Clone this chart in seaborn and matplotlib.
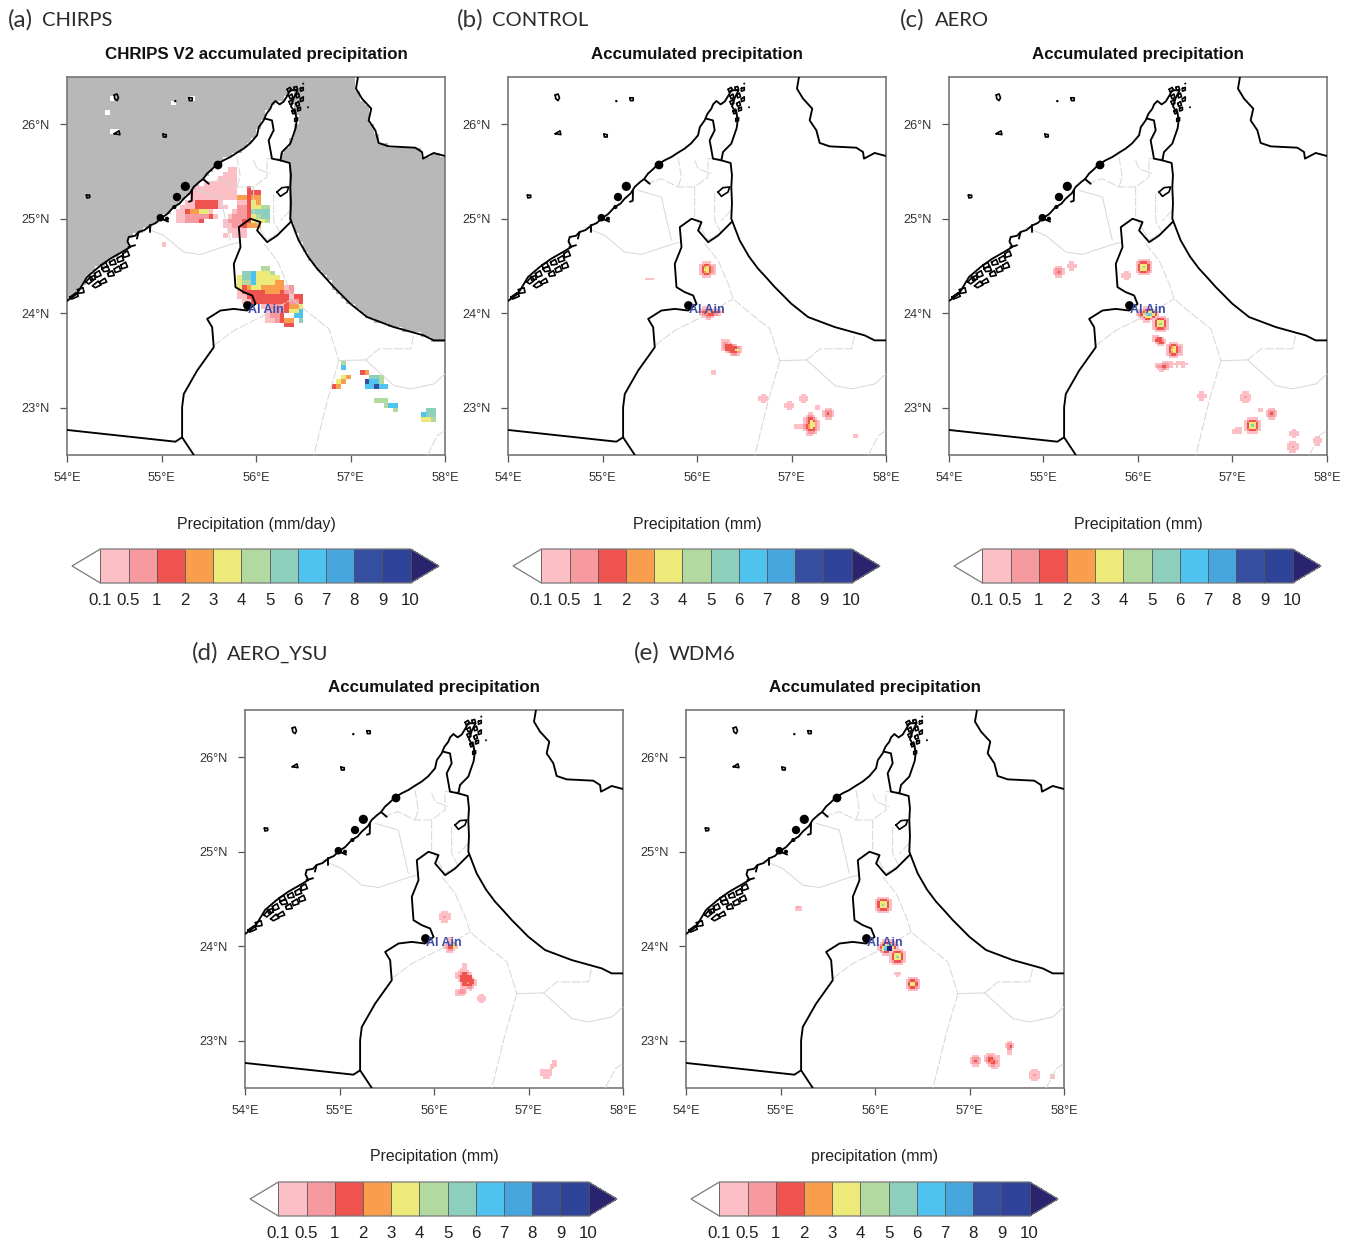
import numpy as np
import seaborn as sns
import matplotlib.pyplot as plt
from matplotlib.colors import ListedColormap, BoundaryNorm
from matplotlib.cm import ScalarMappable
from matplotlib.path import Path

W, H = 1352, 1242
sns.set_theme(style='white')
plt.rcParams['font.family'] = ['Liberation Sans', 'DejaVu Sans']

# contour classes of the colour bar, 1 = 0.1-0.5 ... b = 9-10, c = above 10
LEVELS = [0.1, 0.5, 1, 2, 3, 4, 5, 6, 7, 8, 9, 10]
LEVEL_LABELS = ['0.1', '0.5', '1', '2', '3', '4', '5', '6', '7', '8', '9', '10']
COLORS = ['#fbbfc5', '#f79aa0', '#ef5350', '#f89e4c', '#eeea79', '#b2d9a0',
          '#8dcfbd', '#4fc3f0', '#45a5dc', '#354ea0', '#2f4499']
OVER = '#29246d'

LON_TICKS = [54, 55, 56, 57, 58]
LAT_TICKS = [23, 24, 25, 26]

# gulf coast, Musandam tip, then down the east coast
COAST = [(54.0, 24.13), (54.106, 24.207), (54.159, 24.295), (54.212, 24.384), (54.335, 24.489),
         (54.459, 24.578), (54.582, 24.648), (54.67, 24.701), (54.64, 24.76), (54.653, 24.807), (54.72, 24.82),
         (54.758, 24.86), (54.82, 24.88), (54.882, 24.93), (54.94, 24.955), (54.988, 25.001), (55.06, 25.05),
         (55.129, 25.124), (55.19, 25.16), (55.235, 25.213), (55.30, 25.27), (55.34, 25.336), (55.40, 25.39),
         (55.44, 25.42), (55.481, 25.477), (55.53, 25.52), (55.587, 25.576), (55.66, 25.62), (55.728, 25.653),
         (55.80, 25.70), (55.869, 25.742), (55.94, 25.80), (56.011, 25.883), (56.03, 25.97), (56.081, 26.041),
         (56.11, 26.11), (56.152, 26.165), (56.17, 26.21), (56.205, 26.246), (56.25, 26.21), (56.293, 26.24),
         (56.33, 26.30), (56.363, 26.359), (56.44, 26.36), (56.40, 26.28), (56.37, 26.19), (56.42, 26.11),
         (56.43, 26.041), (56.42, 25.96), (56.363, 25.795), (56.275, 25.706), (56.258, 25.618), (56.356, 25.59),
         (56.37, 25.46), (56.363, 25.336), (56.37, 25.17), (56.363, 25.001), (56.451, 24.772), (56.55, 24.60),
         (56.646, 24.472), (56.74, 24.37), (56.822, 24.278), (56.91, 24.19), (56.998, 24.101), (57.175, 23.96),
         (57.457, 23.854), (57.774, 23.766), (57.88, 23.713), (58.0, 23.713)]
IRAN = [(57.079, 26.5), (57.058, 26.377), (57.122, 26.271), (57.22, 26.165), (57.192, 26.041),
        (57.263, 25.936), (57.298, 25.802), (57.404, 25.766), (57.686, 25.752), (57.757, 25.706),
        (57.767, 25.636), (57.88, 25.696), (58.0, 25.664)]
OMAN_BORDER = [(55.342, 22.5), (55.218, 22.687), (55.218, 23.005), (55.236, 23.146), (55.377, 23.393),
               (55.553, 23.64), (55.536, 23.852), (55.483, 23.94), (55.624, 24.029), (55.765, 24.046),
               (55.906, 24.029), (55.995, 24.099), (55.959, 24.188), (55.871, 24.223), (55.783, 24.276),
               (55.765, 24.523), (55.836, 24.699), (55.818, 24.911), (55.942, 25.0), (56.048, 24.964),
               (56.012, 24.876), (56.118, 24.752), (56.224, 24.823), (56.365, 24.964)]
SAUDI_BORDER = [(54.0, 22.765), (55.147, 22.641), (55.218, 22.687)]
MUSANDAM_BORDER = [(56.099, 26.059), (56.169, 26.041), (56.187, 25.936), (56.134, 25.83),
                   (56.169, 25.636), (56.258, 25.618)]
# small closed outlines: lagoons, Musandam inlets, offshore islands, the lake
LOOPS = [[(54.03, 24.17), (54.10, 24.22), (54.12, 24.18), (54.05, 24.15)],
         [(54.11, 24.25), (54.17, 24.27), (54.18, 24.22), (54.12, 24.21)],
         [(54.20, 24.33), (54.25, 24.39), (54.28, 24.35), (54.23, 24.31)],
         [(54.27, 24.29), (54.33, 24.34), (54.36, 24.30), (54.30, 24.27)],
         [(54.34, 24.33), (54.40, 24.37), (54.42, 24.33), (54.36, 24.31)],
         [(54.29, 24.42), (54.34, 24.45), (54.36, 24.40), (54.31, 24.38)],
         [(54.37, 24.47), (54.43, 24.50), (54.45, 24.45), (54.39, 24.44)],
         [(54.43, 24.42), (54.48, 24.45), (54.50, 24.40), (54.44, 24.39)],
         [(54.50, 24.47), (54.55, 24.50), (54.57, 24.45), (54.51, 24.43)],
         [(54.45, 24.54), (54.50, 24.57), (54.52, 24.52), (54.46, 24.51)],
         [(54.53, 24.58), (54.58, 24.61), (54.60, 24.56), (54.54, 24.54)],
         [(54.59, 24.63), (54.64, 24.66), (54.66, 24.61), (54.60, 24.59)],
         [(54.57, 24.51), (54.62, 24.54), (54.64, 24.49), (54.58, 24.47)],
         [(54.36, 24.51), (54.41, 24.54), (54.43, 24.49), (54.37, 24.48)],
         [(54.24, 24.38), (54.29, 24.40), (54.30, 24.36), (54.25, 24.35)],
         [(56.33, 26.37), (56.36, 26.39), (56.38, 26.36), (56.34, 26.34)],
         [(56.40, 26.39), (56.43, 26.40), (56.44, 26.37), (56.41, 26.36)],
         [(56.47, 26.38), (56.50, 26.39), (56.50, 26.36), (56.47, 26.35)],
         [(56.35, 26.30), (56.38, 26.32), (56.39, 26.28), (56.36, 26.27)],
         [(56.42, 26.31), (56.45, 26.33), (56.46, 26.29), (56.43, 26.28)],
         [(56.47, 26.27), (56.50, 26.29), (56.50, 26.25), (56.47, 26.24)],
         [(56.35, 26.24), (56.38, 26.26), (56.39, 26.22), (56.36, 26.21)],
         [(56.42, 26.22), (56.45, 26.24), (56.46, 26.20), (56.43, 26.19)],
         [(56.38, 26.14), (56.41, 26.16), (56.42, 26.12), (56.39, 26.11)],
         [(56.44, 26.17), (56.47, 26.18), (56.47, 26.15), (56.44, 26.14)],
         [(56.41, 26.06), (56.44, 26.07), (56.44, 26.04), (56.41, 26.03)],
         [(56.222, 25.283), (56.275, 25.329), (56.346, 25.336), (56.328, 25.283), (56.258, 25.237)],
         [(54.50, 26.31), (54.53, 26.32), (54.545, 26.28), (54.53, 26.25), (54.505, 26.27)],
         [(54.5, 25.9), (54.55, 25.93), (54.56, 25.89)],
         [(55.29, 26.28), (55.325, 26.28), (55.325, 26.25), (55.295, 26.25)],
         [(55.015, 25.895), (55.05, 25.89), (55.05, 25.865), (55.02, 25.865)],
         [(54.205, 25.25), (54.24, 25.25), (54.24, 25.225), (54.21, 25.22)]]
SPURS = [[(54.758, 24.86), (54.74, 24.79)], [(54.882, 24.93), (54.882, 24.86)],
         [(55.323, 25.3), (55.32, 25.19), (55.29, 25.18)], [(55.0, 25.0), (55.07, 24.97)],
         [(54.65, 24.70), (54.72, 24.72)], [(55.44, 25.42), (55.50, 25.37)]]
FILLED_LON = [55.252, 55.164, 55.136, 54.988, 55.058, 55.598, 55.146, 56.55, 56.50]
FILLED_LAT = [25.343, 25.23, 25.124, 25.011, 25.0, 25.569, 26.245, 26.18, 26.43]
FILLED_SIZE = [44, 36, 9, 30, 9, 40, 3, 2, 2]
AL_AIN = (55.906, 24.092)

SOLID_GREY = [[(54.812, 24.911), (55.024, 24.823), (55.236, 24.647), (55.412, 24.622), (55.695, 24.717), (55.818, 24.752)],
              [(56.877, 23.499), (57.16, 23.506)],
              [(57.16, 23.506), (57.46, 23.234), (57.636, 23.199), (57.883, 23.252), (58.0, 23.358)],
              [(55.376, 25.301), (55.623, 25.23), (55.728, 24.772)]]
DASHED_GREY = [[(56.083, 24.735), (56.224, 24.558), (56.33, 24.311), (56.383, 24.152), (56.507, 24.046), (56.771, 23.835), (56.877, 23.499)],
               [(55.553, 23.658), (55.765, 23.817), (56.083, 23.976), (56.383, 24.152)],
               [(56.877, 23.499), (56.754, 23.075), (56.613, 22.5)],
               [(57.16, 23.506), (57.301, 23.623), (57.636, 23.623), (57.672, 23.782)],
               [(57.813, 22.5), (57.919, 22.705), (58.0, 22.758)],
               [(55.799, 25.653), (55.834, 25.442), (55.799, 25.336)],
               [(55.464, 25.371), (55.623, 25.424), (55.799, 25.336), (55.975, 25.336), (56.116, 25.442), (56.116, 25.636), (56.258, 25.636)],
               [(55.975, 25.618), (56.011, 25.53), (56.152, 25.477)],
               [(55.975, 25.336), (55.975, 25.019), (56.116, 24.772), (56.222, 24.842)],
               [(56.187, 25.265), (56.187, 24.983), (56.258, 24.842)],
               [(56.363, 25.089), (56.258, 24.98)]]

# land cells that stay white inside the grey sea of the CHIRPS panel
SEA_HOLES = [(54.494, 26.29), (54.47, 26.29), (54.494, 26.26), (54.424, 26.11), (54.49, 25.91),
             (54.53, 25.91), (55.123, 26.23), (55.31, 26.27)]

# CHIRPS cells on the 0.05 degree grid: (row from south, column from west, classes)
CHIRPS_RUNS = [(60, 34, '11'), (59, 33, '111'), (58, 32, '1111'), (57, 29, '1111111'), (56, 27, '111111111'),
               (55, 26, '1111111111'), (54, 26, '1111111111'), (53, 25, '11333331'), (52, 24, '1113333311'),
               (51, 23, '11344551'), (50, 23, '112222231'), (49, 23, '112223'), (44, 20, '1'),
               (56, 38, '3'), (55, 38, '333'), (54, 36, '44344'), (53, 36, '11354'), (52, 36, '22355' + '66'),
               (51, 35, '1223' + '7777'), (50, 34, '1222' + '3' + '5677'), (49, 33, '1222' + '33' + '5556'),
               (48, 33, '1122' + '3444'), (47, 34, '1111'), (46, 33, '1.111'),
               (39, 41, '66'), (38, 37, '7785556'), (37, 36, '577855555'), (36, 36, '5668555544'),
               (35, 36, '534554444412'), (34, 36, '133333444322'), (33, 36, '11333333333133'),
               (32, 37, '1133333333223'), (31, 41, '112223445'), (30, 42, '12223558'), (29, 42, '1223..88'),
               (28, 42, '112344.7'), (27, 46, '33'),
               (19, 58, '6'), (18, 58, '8'), (16, 58, '54'), (15, 57, '54'), (14, 56, '34'),
               (17, 62, '34'), (16, 64, '776'), (15, 63, 'a886'), (14, 63, '88a88'),
               (11, 65, '666'), (10, 67, '688'), (9, 69, '6'),
               (9, 76, '77'), (8, 75, '877'), (7, 75, '556')]

# model cells on the 0.025 degree grid, top row first
TINY = ['11', '11']
PATCH = ['.11.', '1111', '1111', '.11.']
PATCH_ROSE = ['.111.', '11111', '11211', '11111', '.111.']
SOFT = ['.111.', '12221', '12321', '12221', '.111.']
HOT = ['.1111..', '1233211', '1345321', '1355321', '1345321', '1233211', '.1111..']
RING = ['.11111.', '1233321', '1355531', '1357531', '1355531', '1233321', '.11111.']
SMALL_RING = ['.1111.', '123321', '135531', '135531', '123321', '.1111.']

B_AIN = ['..1111.....', '.122222211.', '12334433321', '.123333221.', '..11221....', '....11.....']
B_BAR = ['1111.....', '12211....', '1233321..', '123333321', '113333551', '..1233321', '....1221.']
B_SE = ['...11....', '..1221...', '.123321..', '.1235321.', '.1235521.', '12345521.', '12345321.', '.1233321.', '..12221..', '..111....']
C_AIN = ['...1111....', '.11233211..', '1123555321.', '1235787531.', '.1235553211', '..1133211..', '...111.....']
C_BAR = ['111...', '12331.', '133321', '.12331', '..111.']
C_WIDE = ['...11111.1111', '11122211111111', '12233211.1.11', '.11221.......', '..11.........']
C_SW = ['.111', '1111', '1111']
D_BIG = ['...11....', '...11....', '..111....', '.11111...', '1123321..', '1233333..', '11333331.', '.13333331',
         '..1334331', '..1333321', '..111221.', '11221.1..', '12221....', '1111.....']
D_SE = ['.....11', '.....11', '....111', '....11.', '11111..', '11111..', '11111..', '.111...']
D_AIN = ['..11..', '..11..', '.1222.', '123351', '123351', '.1221.', '.111..']
E_AIN = ['..11111..', '.1233321.', '123577321', '1358cc531', '1358cc321', '.123331..', '..1111...']
E_SOFT = ['.1111..', '1122111', '1233211', '1234321', '.123321', '..12211', '...111.']
E_TALL = ['.11.', '1221', '1231', '.22.', '.11.', '.11.']

CONTROL_BLOBS = [(56.106, 24.458, HOT), (55.5, 24.35, ['1111']), (56.145, 23.99, B_AIN), (56.35, 23.64, B_BAR),
                 (56.17, 23.37, TINY), (56.69, 23.1, PATCH), (57.135, 23.1, PATCH), (56.98, 23.02, PATCH),
                 (57.285, 23.0, TINY), (57.4, 22.94, SOFT), (57.06, 22.79, ['111', '111']), (57.21, 22.83, B_SE),
                 (57.665, 22.71, TINY)]
AERO_BLOBS = [(56.074, 24.475, RING), (55.873, 24.394, PATCH), (56.12, 23.98, C_AIN), (56.226, 23.876, RING),
              (56.23, 23.71, C_BAR), (56.384, 23.618, HOT), (56.36, 23.43, C_WIDE), (56.673, 23.124, PATCH),
              (57.132, 23.117, PATCH_ROSE), (57.29, 22.983, TINY), (57.404, 22.934, SOFT), (57.213, 22.807, RING),
              (57.04, 22.775, C_SW), (57.643, 22.722, PATCH), (57.643, 22.588, PATCH_ROSE), (57.897, 22.659, PATCH),
              (55.153, 24.437, SOFT), (55.3, 24.5, PATCH)]
YSU_BLOBS = [(56.116, 24.306, PATCH_ROSE), (56.187, 24.013, D_AIN), (56.345, 23.643, D_BIG), (56.494, 23.449, PATCH),
             (57.22, 22.69, D_SE)]
WDM6_BLOBS = [(56.088, 24.447, RING), (56.14, 23.996, E_AIN), (56.246, 23.897, RING), (56.246, 23.706, ['111', '.1.']),
              (56.388, 23.608, SMALL_RING), (57.068, 22.796, SOFT), (57.245, 22.779, E_SOFT), (57.417, 22.92, E_TALL),
              (57.686, 22.648, PATCH_ROSE), (57.887, 22.637, TINY), (55.196, 24.405, ['121', '111'])]

# panel settings
PANEL_LETTERS = ['(a)', '(b)', '(c)', '(d)', '(e)']
PANEL_NAMES = ['CHIRPS', 'CONTROL', 'AERO', 'AERO_YSU', 'WDM6']
PANEL_TITLES = ['CHRIPS V2 accumulated precipitation', 'Accumulated precipitation', 'Accumulated precipitation',
                'Accumulated precipitation', 'Accumulated precipitation']
BAR_TITLES = ['Precipitation (mm/day)', 'Precipitation (mm)', 'Precipitation (mm)', 'Precipitation (mm)', 'precipitation (mm)']
PANEL_LEFT = [67, 508, 949, 245, 686]
PANEL_TOP = [77, 77, 77, 710, 710]
LETTER_X = [8, 457, 900, 192, 634]
NAME_X = [42, 492, 935, 227, 669]
PANEL_BLOBS = [None, CONTROL_BLOBS, AERO_BLOBS, YSU_BLOBS, WDM6_BLOBS]
SIDE = 378

cmap = ListedColormap(COLORS).with_extremes(under='white', over=OVER)
rain_cmap = ListedColormap(COLORS + [OVER])
norm = BoundaryNorm(LEVELS, 11)


def rect(x0, y0, w, h):
    return [x0 / W, 1 - (y0 + h) / H, w / W, h / H]


def fill_grid(n, blobs):
    grid = np.full((n, n), np.nan)
    step = 4.0 / n
    for lon, lat, rows in blobs:
        w = max(len(r) for r in rows)
        c0 = int(round((lon - 54) / step - w / 2))
        top = int(round((lat - 22.5) / step + len(rows) / 2)) - 1
        for i, row in enumerate(rows):
            for j, ch in enumerate(row):
                if ch != '.':
                    grid[top - i, c0 + j] = int(ch, 16)
    return grid


def chirps_grid(n):
    grid = np.full((n, n), np.nan)
    for r, c0, cells in CHIRPS_RUNS:
        for j, ch in enumerate(cells):
            if ch != '.':
                grid[r, c0 + j] = int(ch, 16)
    return grid


def sea_grid(n):
    step = 4.0 / n
    outline = COAST + [(58.2, 23.713), (58.2, 25.664)] + IRAN[::-1] + [(57.079, 26.7), (53.8, 26.7), (53.8, 24.13)]
    lon, lat = np.meshgrid(54 + (np.arange(n) + 0.5) * step, 22.5 + (np.arange(n) + 0.5) * step)
    inside = Path(outline).contains_points(np.c_[lon.ravel(), lat.ravel()]).reshape(n, n)
    for hx, hy in SEA_HOLES:
        inside[int((hy - 22.5) / step), int((hx - 54) / step)] = False
    return np.where(inside, 1.0, np.nan)


fig = plt.figure(figsize=(W / 100, H / 100), dpi=100, facecolor='white')

for k in range(5):
    x0, y0 = PANEL_LEFT[k], PANEL_TOP[k]
    ax = fig.add_axes(rect(x0, y0, SIDE, SIDE))
    n = 80 if k == 0 else 160
    scale = n / 4.0
    gx = lambda lon: (np.asarray(lon) - 54) * scale
    gy = lambda lat: (np.asarray(lat) - 22.5) * scale

    if k == 0:
        sea = sea_grid(n)
        sns.heatmap(sea, mask=np.isnan(sea), cmap=ListedColormap(['#b8b8b8']), cbar=False, ax=ax,
                    xticklabels=False, yticklabels=False)
        rain = chirps_grid(n)
    else:
        rain = fill_grid(n, PANEL_BLOBS[k])
    sns.heatmap(rain, mask=np.isnan(rain), cmap=rain_cmap, vmin=0.5, vmax=12.5, cbar=False, ax=ax,
                xticklabels=False, yticklabels=False)
    ax.set_xlim(0, n)
    ax.set_ylim(0, n)

    def line(pts, **kw):
        a = np.array(pts)
        ax.plot(gx(a[:, 0]), gy(a[:, 1]), **kw)

    for pts in SOLID_GREY:
        line(pts, color='#d6d6d6', lw=0.7, zorder=3)
    for pts in DASHED_GREY:
        line(pts, color='#d6d6d6', lw=0.7, ls=(0, (9, 2)), zorder=3)
    for pts in [COAST, IRAN, OMAN_BORDER, SAUDI_BORDER, MUSANDAM_BORDER] + SPURS:
        line(pts, color='black', lw=1.35, zorder=4, solid_joinstyle='round')
    for pts in LOOPS:
        line(pts + pts[:1], color='black', lw=1.2, zorder=4)
    ax.scatter(gx(FILLED_LON), gy(FILLED_LAT), s=FILLED_SIZE, color='black', lw=0, zorder=4)
    ax.scatter(gx(AL_AIN[0]), gy(AL_AIN[1]), s=40, color='black', lw=0, zorder=5)
    ax.text(gx(56.1), gy(24.03), 'Al Ain', color='#3b4ba8', fontsize=9, fontweight='bold',
            ha='center', va='center', zorder=6)

    ax.set_xticks(gx(LON_TICKS))
    ax.set_xticklabels(['%d°E' % v for v in LON_TICKS])
    ax.set_yticks(gy(LAT_TICKS))
    ax.set_yticklabels(['%d°N' % v for v in LAT_TICKS], rotation=0)
    ax.tick_params(axis='both', direction='out', length=5, width=0.9, color='#555555', labelsize=9.2,
                   labelcolor='#333333', bottom=True, left=True)
    ax.tick_params(axis='x', pad=7)
    ax.tick_params(axis='y', pad=7.5)
    for s in ax.spines.values():
        s.set_visible(True)
        s.set_color('#777777')
        s.set_linewidth(1.2)

    ax.set_title(PANEL_TITLES[k], fontsize=12.2, fontweight='bold', color='#111111', pad=13)

    fig.text(LETTER_X[k] / W, 1 - (y0 - 57) / H, PANEL_LETTERS[k], family='Lato', fontsize=17.5,
             color='#333333', va='center', ha='left')
    fig.text(NAME_X[k] / W, 1 - (y0 - 56) / H, PANEL_NAMES[k], family='Lato', fontsize=14.5,
             color='#2a2a2a', va='center', ha='left')

    fig.text((x0 + SIDE / 2) / W, 1 - (y0 + SIDE + 69) / H, BAR_TITLES[k], fontsize=11.4,
             color='#222222', ha='center', va='center')
    # the axes holds the two end triangles as well as the 311 px body
    cax = fig.add_axes(rect(x0 + 5, y0 + SIDE + 94, 367, 34))
    cbar = fig.colorbar(ScalarMappable(norm=norm, cmap=cmap), cax=cax, orientation='horizontal',
                        extend='both', extendfrac=28.5 / 311, spacing='uniform', drawedges=True, ticks=LEVELS)
    cbar.ax.set_xticklabels(LEVEL_LABELS)
    cbar.ax.tick_params(length=0, labelsize=12.2, labelcolor='#222222', pad=7)
    cbar.outline.set_edgecolor('#7a7a7a')
    cbar.outline.set_linewidth(0.9)
    cbar.dividers.set_color('#555555')
    cbar.dividers.set_linewidth(0.6)

fig.savefig('out.png', dpi=100)
